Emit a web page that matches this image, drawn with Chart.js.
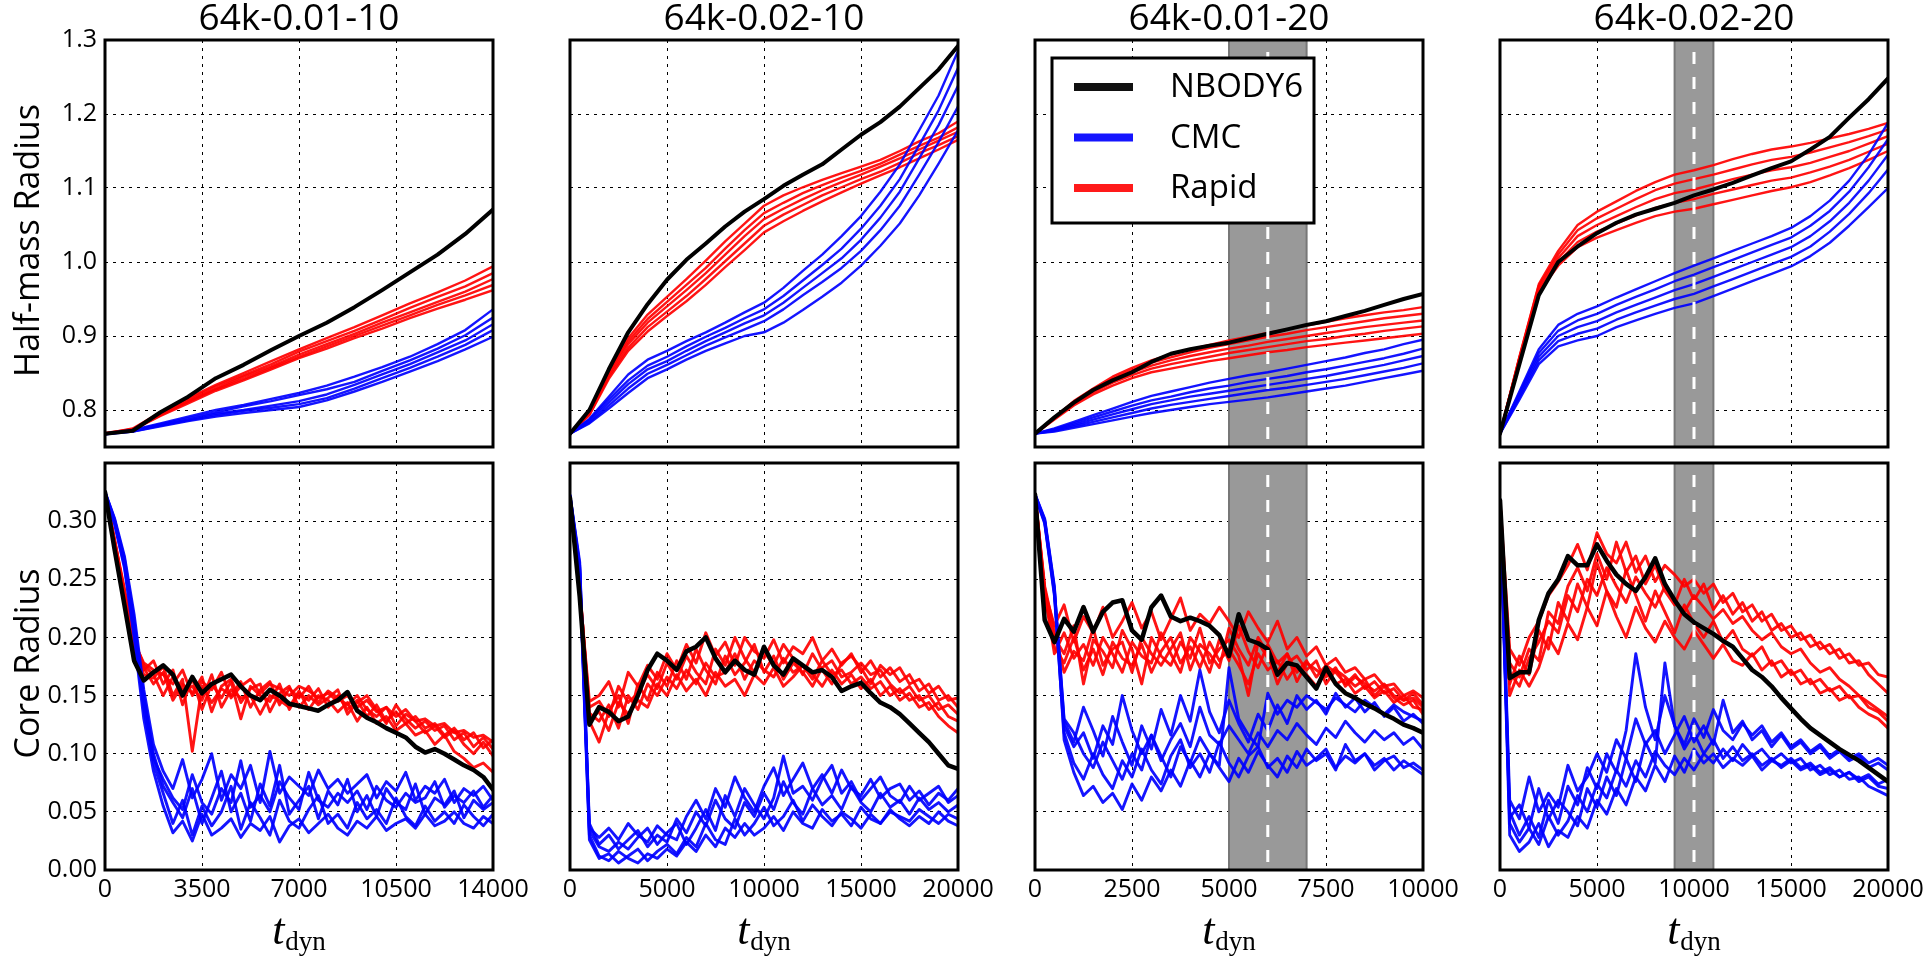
<!DOCTYPE html>
<html>
<head>
<meta charset="utf-8">
<script src="https://cdn.jsdelivr.net/npm/chart.js@4.4.1/dist/chart.umd.min.js"></script>
<style>
  body { margin: 0; background: #fff; width: 1925px; height: 958px; overflow: hidden; position: relative; }
  canvas { position: absolute; }
</style>
</head>
<body>
<script>
// ---- labels / ticks ----
const panelTitles = ['64k-0.01-10', '64k-0.02-10', '64k-0.01-20', '64k-0.02-20'];
const tMax = [14000, 20000, 10000, 20000];
const xTicks14 = [0, 3500, 7000, 10500, 14000];
const xTicks20 = [0, 5000, 10000, 15000, 20000];
const xTicks10 = [0, 2500, 5000, 7500, 10000];
const halfTicks = [0.8, 0.9, 1.0, 1.1, 1.2, 1.3];
const coreTicks = [0, 0.05, 0.10, 0.15, 0.20, 0.25, 0.30];
const legendLabels = ['NBODY6', 'CMC', 'Rapid'];
// shaded window [from, to, marker]
const band3 = [5000, 7000, 6000];
const band4 = [9000, 11000, 10000];

// ---- sample times ----
const tHalf14 = [0,1000,2000,3000,4000,5000,6000,7000,8000,9000,10000,11000,12000,13000,14000];
const tHalf20 = [0,1000,2000,3000,4000,5000,6000,7000,8000,9000,10000,11000,12000,13000,14000,15000,16000,17000,18000,19000,20000];
const tHalf10 = [0,500,1000,1500,2000,2500,3000,3500,4000,4500,5000,5500,6000,6500,7000,7500,8000,8500,9000,9500,10000];
const tCore14 = [0,350,700,1050,1400,1750,2100,2450,2800,3150,3500,3850,4200,4550,4900,5250,5600,5950,6300,6650,7000,7350,7700,8050,8400,8750,9100,9450,9800,10150,10500,10850,11200,11550,11900,12250,12600,12950,13300,13650,14000];
const tCore20 = [0,500,1000,1500,2000,2500,3000,3500,4000,4500,5000,5500,6000,6500,7000,7500,8000,8500,9000,9500,10000,10500,11000,11500,12000,12500,13000,13500,14000,14500,15000,15500,16000,16500,17000,17500,18000,18500,19000,19500,20000];
const tCore10 = [0,250,500,750,1000,1250,1500,1750,2000,2250,2500,2750,3000,3250,3500,3750,4000,4250,4500,4750,5000,5250,5500,5750,6000,6250,6500,6750,7000,7250,7500,7750,8000,8250,8500,8750,9000,9250,9500,9750,10000];

// ---- 64k-0.01-10 ----
const nbodyHalf1 = [0.768,0.772,0.797,0.818,0.843,0.861,0.881,0.900,0.918,0.939,0.962,0.986,1.010,1.038,1.071];
const rapidHalf1 = [
  [0.768,0.775,0.797,0.816,0.834,0.850,0.866,0.882,0.897,0.912,0.928,0.944,0.959,0.975,0.994],
  [0.768,0.774,0.796,0.814,0.832,0.847,0.862,0.879,0.893,0.907,0.922,0.938,0.953,0.967,0.985],
  [0.769,0.774,0.794,0.812,0.829,0.845,0.859,0.875,0.889,0.903,0.918,0.932,0.946,0.960,0.977],
  [0.768,0.773,0.793,0.811,0.828,0.842,0.857,0.872,0.886,0.900,0.914,0.928,0.942,0.955,0.969],
  [0.767,0.773,0.792,0.809,0.826,0.840,0.855,0.870,0.883,0.897,0.910,0.924,0.937,0.949,0.962]
];
const cmcHalf1 = [
  [0.768,0.773,0.782,0.791,0.800,0.807,0.815,0.823,0.833,0.845,0.858,0.872,0.889,0.908,0.936],
  [0.768,0.772,0.781,0.789,0.797,0.805,0.812,0.820,0.828,0.838,0.853,0.867,0.883,0.901,0.925],
  [0.767,0.772,0.780,0.787,0.795,0.800,0.806,0.812,0.821,0.834,0.848,0.862,0.878,0.894,0.916],
  [0.768,0.771,0.779,0.786,0.793,0.799,0.803,0.808,0.816,0.829,0.843,0.857,0.872,0.888,0.908],
  [0.767,0.771,0.778,0.785,0.791,0.796,0.800,0.804,0.813,0.825,0.838,0.852,0.866,0.882,0.899]
];
const nbodyCore1 = [0.325,0.275,0.228,0.180,0.163,0.170,0.176,0.168,0.150,0.166,0.152,0.160,0.164,0.168,0.158,0.150,0.146,0.155,0.150,0.143,0.141,0.139,0.137,0.142,0.146,0.153,0.137,0.131,0.127,0.122,0.118,0.114,0.106,0.101,0.104,0.100,0.095,0.090,0.086,0.080,0.069];
const rapidCore1 = [
  [0.325,0.282,0.240,0.196,0.178,0.172,0.168,0.160,0.172,0.150,0.162,0.155,0.170,0.148,0.158,0.164,0.152,0.160,0.156,0.150,0.158,0.154,0.148,0.152,0.145,0.150,0.140,0.146,0.136,0.140,0.132,0.138,0.128,0.130,0.124,0.126,0.118,0.120,0.114,0.116,0.110],
  [0.325,0.284,0.238,0.190,0.172,0.180,0.160,0.172,0.142,0.165,0.138,0.160,0.148,0.162,0.130,0.158,0.150,0.145,0.160,0.138,0.152,0.146,0.156,0.140,0.150,0.138,0.146,0.132,0.142,0.128,0.136,0.126,0.132,0.122,0.126,0.116,0.122,0.112,0.118,0.105,0.112],
  [0.324,0.280,0.236,0.192,0.168,0.165,0.175,0.150,0.164,0.102,0.158,0.144,0.156,0.150,0.162,0.140,0.155,0.162,0.142,0.156,0.148,0.158,0.144,0.154,0.148,0.142,0.150,0.138,0.132,0.140,0.124,0.134,0.128,0.118,0.124,0.114,0.120,0.108,0.100,0.110,0.098],
  [0.325,0.283,0.242,0.198,0.176,0.168,0.150,0.166,0.155,0.158,0.146,0.168,0.140,0.155,0.148,0.150,0.134,0.150,0.146,0.140,0.154,0.138,0.150,0.146,0.136,0.144,0.128,0.140,0.126,0.132,0.120,0.126,0.116,0.120,0.108,0.116,0.102,0.096,0.088,0.092,0.084],
  [0.324,0.281,0.239,0.194,0.174,0.160,0.170,0.146,0.160,0.152,0.166,0.136,0.158,0.164,0.144,0.156,0.160,0.136,0.152,0.158,0.140,0.150,0.142,0.148,0.155,0.134,0.144,0.150,0.138,0.126,0.142,0.130,0.122,0.128,0.120,0.124,0.112,0.118,0.106,0.114,0.104]
];
const cmcCore1 = [
  [0.325,0.300,0.268,0.215,0.150,0.100,0.072,0.058,0.045,0.070,0.040,0.062,0.085,0.050,0.066,0.042,0.074,0.055,0.090,0.048,0.060,0.072,0.044,0.068,0.056,0.078,0.050,0.064,0.046,0.070,0.058,0.052,0.074,0.048,0.062,0.056,0.068,0.045,0.060,0.052,0.058],
  [0.324,0.298,0.262,0.205,0.138,0.092,0.066,0.040,0.060,0.030,0.055,0.038,0.050,0.072,0.035,0.058,0.045,0.030,0.060,0.042,0.036,0.052,0.064,0.040,0.048,0.036,0.058,0.044,0.052,0.040,0.062,0.046,0.038,0.055,0.042,0.050,0.040,0.056,0.046,0.038,0.048],
  [0.325,0.302,0.270,0.220,0.155,0.108,0.085,0.070,0.095,0.062,0.078,0.100,0.060,0.082,0.070,0.090,0.058,0.102,0.066,0.080,0.072,0.064,0.086,0.070,0.078,0.066,0.074,0.082,0.062,0.076,0.068,0.084,0.060,0.072,0.066,0.078,0.058,0.070,0.064,0.072,0.060],
  [0.324,0.297,0.260,0.200,0.130,0.085,0.055,0.032,0.042,0.025,0.048,0.030,0.036,0.044,0.028,0.040,0.034,0.046,0.024,0.038,0.044,0.032,0.040,0.048,0.036,0.030,0.042,0.036,0.046,0.034,0.040,0.044,0.036,0.048,0.038,0.042,0.050,0.040,0.036,0.046,0.040],
  [0.325,0.301,0.265,0.212,0.145,0.096,0.078,0.062,0.052,0.082,0.058,0.048,0.070,0.058,0.094,0.054,0.064,0.050,0.076,0.062,0.052,0.084,0.060,0.054,0.066,0.058,0.068,0.052,0.072,0.060,0.054,0.066,0.058,0.062,0.076,0.054,0.064,0.058,0.068,0.054,0.064]
];

// ---- 64k-0.02-10 ----
const nbodyHalf2 = [0.768,0.800,0.855,0.905,0.943,0.976,1.003,1.025,1.048,1.068,1.085,1.103,1.118,1.132,1.152,1.172,1.189,1.210,1.235,1.260,1.292];
const rapidHalf2 = [
  [0.768,0.797,0.853,0.897,0.929,0.953,0.977,1.002,1.028,1.052,1.076,1.090,1.101,1.111,1.120,1.129,1.138,1.150,1.163,1.174,1.190],
  [0.768,0.796,0.851,0.893,0.923,0.946,0.969,0.992,1.018,1.043,1.066,1.080,1.093,1.104,1.114,1.123,1.133,1.145,1.157,1.168,1.182],
  [0.768,0.795,0.848,0.889,0.918,0.940,0.962,0.985,1.010,1.035,1.058,1.072,1.085,1.097,1.108,1.118,1.129,1.140,1.152,1.164,1.176],
  [0.768,0.794,0.845,0.884,0.912,0.933,0.954,0.977,1.001,1.025,1.049,1.064,1.077,1.090,1.101,1.112,1.122,1.134,1.147,1.158,1.170],
  [0.768,0.793,0.842,0.880,0.906,0.927,0.947,0.969,0.993,1.016,1.040,1.055,1.069,1.082,1.094,1.106,1.117,1.128,1.140,1.152,1.165]
];
const cmcHalf2 = [
  [0.768,0.788,0.818,0.848,0.868,0.880,0.893,0.905,0.918,0.932,0.945,0.965,0.988,1.010,1.035,1.062,1.095,1.132,1.178,1.225,1.285],
  [0.768,0.787,0.814,0.840,0.860,0.872,0.886,0.899,0.911,0.924,0.936,0.954,0.975,0.996,1.018,1.045,1.076,1.112,1.158,1.205,1.262],
  [0.768,0.785,0.810,0.835,0.855,0.866,0.880,0.893,0.905,0.917,0.928,0.945,0.965,0.985,1.005,1.030,1.060,1.095,1.140,1.185,1.238],
  [0.768,0.783,0.806,0.829,0.849,0.861,0.874,0.887,0.898,0.909,0.920,0.936,0.955,0.973,0.992,1.015,1.043,1.076,1.118,1.162,1.210],
  [0.768,0.782,0.802,0.823,0.843,0.855,0.868,0.880,0.890,0.900,0.905,0.918,0.935,0.953,0.972,0.995,1.022,1.052,1.090,1.133,1.178]
];
const nbodyCore2 = [0.320,0.235,0.125,0.140,0.136,0.128,0.132,0.150,0.172,0.186,0.180,0.172,0.188,0.192,0.200,0.182,0.170,0.180,0.172,0.168,0.192,0.176,0.168,0.182,0.176,0.170,0.172,0.166,0.154,0.158,0.161,0.152,0.144,0.140,0.134,0.126,0.118,0.110,0.100,0.090,0.087];
const rapidCore2 = [
  [0.320,0.240,0.145,0.150,0.162,0.140,0.170,0.158,0.176,0.164,0.186,0.172,0.194,0.178,0.204,0.184,0.196,0.176,0.200,0.188,0.182,0.198,0.178,0.192,0.186,0.200,0.180,0.190,0.176,0.186,0.170,0.180,0.166,0.174,0.162,0.168,0.154,0.160,0.146,0.150,0.140],
  [0.320,0.245,0.135,0.128,0.142,0.122,0.150,0.138,0.160,0.150,0.166,0.156,0.172,0.160,0.178,0.166,0.170,0.186,0.164,0.180,0.172,0.166,0.182,0.170,0.176,0.164,0.180,0.168,0.172,0.160,0.166,0.156,0.162,0.150,0.156,0.146,0.150,0.138,0.144,0.132,0.128],
  [0.319,0.238,0.128,0.110,0.136,0.150,0.126,0.160,0.146,0.170,0.158,0.180,0.164,0.190,0.172,0.160,0.184,0.168,0.178,0.194,0.170,0.184,0.164,0.178,0.170,0.158,0.174,0.180,0.166,0.170,0.178,0.168,0.172,0.160,0.152,0.158,0.146,0.150,0.138,0.142,0.134],
  [0.320,0.242,0.140,0.145,0.132,0.158,0.144,0.152,0.168,0.156,0.178,0.164,0.184,0.170,0.160,0.190,0.176,0.200,0.182,0.170,0.188,0.176,0.194,0.182,0.168,0.186,0.172,0.160,0.178,0.184,0.174,0.160,0.176,0.168,0.174,0.160,0.164,0.152,0.158,0.146,0.148],
  [0.319,0.236,0.130,0.136,0.120,0.144,0.134,0.146,0.140,0.160,0.150,0.168,0.154,0.164,0.150,0.170,0.158,0.164,0.150,0.168,0.160,0.174,0.158,0.166,0.176,0.168,0.158,0.172,0.160,0.168,0.156,0.164,0.150,0.158,0.146,0.152,0.140,0.144,0.132,0.124,0.118]
];
const cmcCore2 = [
  [0.322,0.262,0.040,0.022,0.030,0.018,0.026,0.034,0.020,0.030,0.024,0.044,0.032,0.050,0.038,0.060,0.044,0.036,0.058,0.046,0.066,0.052,0.076,0.058,0.048,0.070,0.056,0.064,0.052,0.072,0.058,0.050,0.066,0.054,0.060,0.048,0.062,0.052,0.058,0.050,0.056],
  [0.321,0.258,0.030,0.012,0.008,0.016,0.010,0.006,0.014,0.010,0.018,0.012,0.024,0.016,0.030,0.020,0.036,0.028,0.040,0.030,0.036,0.046,0.034,0.050,0.040,0.036,0.052,0.042,0.048,0.038,0.054,0.044,0.040,0.050,0.046,0.042,0.052,0.046,0.040,0.048,0.044],
  [0.322,0.265,0.036,0.028,0.036,0.026,0.040,0.030,0.024,0.038,0.030,0.026,0.046,0.060,0.044,0.070,0.054,0.080,0.062,0.050,0.072,0.088,0.064,0.078,0.092,0.070,0.082,0.066,0.086,0.070,0.064,0.078,0.062,0.070,0.074,0.060,0.068,0.056,0.066,0.060,0.070],
  [0.321,0.255,0.026,0.010,0.014,0.006,0.012,0.018,0.008,0.016,0.022,0.014,0.028,0.020,0.040,0.026,0.022,0.044,0.030,0.040,0.054,0.038,0.046,0.060,0.042,0.056,0.046,0.038,0.050,0.044,0.036,0.048,0.040,0.052,0.044,0.038,0.046,0.040,0.050,0.042,0.038],
  [0.322,0.260,0.034,0.020,0.016,0.024,0.018,0.028,0.036,0.022,0.032,0.040,0.022,0.036,0.052,0.034,0.064,0.046,0.070,0.056,0.044,0.062,0.098,0.066,0.072,0.060,0.078,0.090,0.066,0.076,0.060,0.070,0.080,0.064,0.058,0.072,0.060,0.066,0.072,0.058,0.064]
];

// ---- 64k-0.01-20 ----
const nbodyHalf3 = [0.768,0.790,0.810,0.827,0.840,0.851,0.865,0.876,0.882,0.887,0.891,0.897,0.903,0.909,0.915,0.920,0.927,0.934,0.942,0.950,0.957];
const rapidHalf3 = [
  [0.768,0.790,0.812,0.829,0.845,0.857,0.867,0.875,0.882,0.888,0.894,0.899,0.904,0.909,0.914,0.919,0.924,0.928,0.932,0.935,0.939],
  [0.768,0.790,0.811,0.828,0.842,0.854,0.864,0.871,0.878,0.884,0.889,0.894,0.899,0.903,0.908,0.912,0.916,0.920,0.924,0.927,0.930],
  [0.768,0.789,0.810,0.826,0.840,0.851,0.860,0.867,0.873,0.878,0.883,0.887,0.892,0.896,0.900,0.904,0.908,0.912,0.915,0.918,0.921],
  [0.768,0.788,0.808,0.824,0.837,0.847,0.856,0.862,0.867,0.872,0.877,0.881,0.885,0.889,0.893,0.896,0.900,0.903,0.907,0.910,0.913],
  [0.768,0.787,0.806,0.821,0.833,0.843,0.851,0.856,0.861,0.866,0.870,0.874,0.878,0.881,0.885,0.888,0.891,0.894,0.897,0.900,0.903]
];
const cmcHalf3 = [
  [0.768,0.775,0.784,0.793,0.802,0.811,0.819,0.825,0.831,0.837,0.842,0.847,0.851,0.856,0.861,0.866,0.871,0.877,0.882,0.889,0.895],
  [0.768,0.774,0.782,0.790,0.798,0.806,0.813,0.818,0.824,0.829,0.833,0.838,0.842,0.846,0.851,0.855,0.860,0.865,0.870,0.876,0.883],
  [0.768,0.773,0.780,0.787,0.794,0.801,0.808,0.813,0.818,0.822,0.826,0.830,0.834,0.838,0.842,0.846,0.851,0.856,0.861,0.867,0.873],
  [0.768,0.772,0.778,0.784,0.790,0.796,0.802,0.807,0.811,0.815,0.819,0.823,0.827,0.830,0.834,0.838,0.842,0.847,0.852,0.857,0.863],
  [0.768,0.771,0.776,0.781,0.786,0.791,0.796,0.800,0.804,0.808,0.811,0.814,0.817,0.821,0.825,0.829,0.833,0.838,0.843,0.848,0.853]
];
const nbodyCore3 = [0.323,0.215,0.196,0.216,0.205,0.226,0.205,0.222,0.230,0.232,0.206,0.198,0.226,0.236,0.218,0.214,0.217,0.214,0.210,0.202,0.184,0.220,0.198,0.195,0.190,0.168,0.178,0.176,0.166,0.156,0.174,0.160,0.152,0.148,0.143,0.139,0.134,0.130,0.125,0.122,0.118];
const rapidCore3 = [
  [0.323,0.240,0.210,0.228,0.196,0.218,0.204,0.226,0.200,0.214,0.230,0.208,0.222,0.198,0.216,0.234,0.206,0.220,0.212,0.226,0.214,0.200,0.222,0.208,0.196,0.214,0.190,0.200,0.184,0.192,0.176,0.182,0.170,0.174,0.164,0.168,0.158,0.160,0.150,0.154,0.148],
  [0.322,0.236,0.192,0.178,0.200,0.172,0.190,0.168,0.196,0.182,0.176,0.194,0.170,0.188,0.200,0.178,0.192,0.174,0.196,0.180,0.190,0.176,0.160,0.186,0.172,0.180,0.164,0.176,0.168,0.158,0.170,0.160,0.164,0.152,0.158,0.148,0.154,0.144,0.150,0.140,0.138],
  [0.323,0.242,0.200,0.186,0.210,0.160,0.198,0.188,0.174,0.206,0.190,0.160,0.200,0.184,0.176,0.196,0.182,0.208,0.178,0.190,0.198,0.184,0.150,0.196,0.182,0.170,0.186,0.162,0.178,0.172,0.166,0.174,0.158,0.166,0.160,0.154,0.160,0.150,0.146,0.152,0.142],
  [0.322,0.238,0.186,0.204,0.182,0.194,0.176,0.200,0.186,0.170,0.196,0.184,0.178,0.204,0.186,0.170,0.200,0.188,0.170,0.198,0.180,0.210,0.188,0.174,0.194,0.178,0.186,0.170,0.180,0.166,0.176,0.170,0.160,0.168,0.156,0.162,0.152,0.156,0.146,0.148,0.140],
  [0.323,0.244,0.206,0.170,0.188,0.180,0.208,0.176,0.190,0.196,0.170,0.200,0.186,0.176,0.190,0.204,0.172,0.194,0.186,0.174,0.208,0.190,0.176,0.200,0.186,0.160,0.178,0.184,0.172,0.180,0.160,0.172,0.166,0.158,0.164,0.150,0.158,0.148,0.142,0.146,0.134]
];
const cmcCore3 = [
  [0.323,0.300,0.240,0.128,0.110,0.140,0.120,0.098,0.132,0.110,0.090,0.124,0.104,0.138,0.116,0.150,0.128,0.172,0.136,0.118,0.146,0.126,0.110,0.134,0.120,0.142,0.126,0.150,0.138,0.146,0.134,0.152,0.140,0.148,0.136,0.144,0.132,0.140,0.128,0.134,0.126],
  [0.322,0.298,0.236,0.118,0.092,0.078,0.100,0.082,0.070,0.094,0.080,0.104,0.086,0.074,0.098,0.112,0.088,0.100,0.084,0.110,0.092,0.080,0.098,0.106,0.088,0.096,0.084,0.102,0.090,0.096,0.104,0.088,0.098,0.092,0.100,0.086,0.094,0.098,0.088,0.092,0.086],
  [0.323,0.302,0.244,0.112,0.084,0.064,0.072,0.058,0.066,0.052,0.074,0.060,0.080,0.068,0.086,0.072,0.094,0.080,0.100,0.088,0.076,0.096,0.084,0.102,0.090,0.080,0.098,0.088,0.104,0.094,0.100,0.086,0.108,0.094,0.100,0.090,0.096,0.086,0.094,0.088,0.082],
  [0.322,0.299,0.238,0.124,0.106,0.118,0.096,0.124,0.108,0.150,0.120,0.100,0.116,0.094,0.112,0.126,0.106,0.140,0.116,0.108,0.124,0.112,0.100,0.118,0.106,0.120,0.112,0.126,0.116,0.108,0.122,0.114,0.128,0.118,0.110,0.120,0.112,0.118,0.108,0.114,0.104],
  [0.323,0.301,0.242,0.130,0.118,0.100,0.088,0.110,0.094,0.078,0.100,0.086,0.116,0.098,0.080,0.106,0.092,0.114,0.100,0.090,0.174,0.130,0.116,0.106,0.152,0.134,0.146,0.140,0.150,0.144,0.138,0.148,0.142,0.136,0.146,0.140,0.134,0.142,0.136,0.132,0.128]
];

// ---- 64k-0.02-20 ----
const nbodyHalf4 = [0.768,0.862,0.955,1.000,1.021,1.039,1.053,1.064,1.072,1.080,1.090,1.098,1.107,1.117,1.127,1.136,1.152,1.169,1.195,1.220,1.248];
const rapidHalf4 = [
  [0.768,0.872,0.970,1.015,1.050,1.068,1.082,1.096,1.108,1.118,1.124,1.131,1.139,1.146,1.152,1.156,1.161,1.167,1.173,1.180,1.188],
  [0.768,0.871,0.968,1.010,1.043,1.059,1.072,1.085,1.097,1.106,1.112,1.118,1.125,1.132,1.138,1.142,1.148,1.155,1.162,1.170,1.179],
  [0.768,0.870,0.965,1.005,1.035,1.050,1.062,1.074,1.085,1.093,1.098,1.105,1.112,1.118,1.124,1.128,1.134,1.142,1.150,1.160,1.170],
  [0.768,0.869,0.962,1.000,1.027,1.041,1.052,1.063,1.073,1.080,1.085,1.092,1.098,1.104,1.110,1.114,1.121,1.129,1.138,1.149,1.160],
  [0.768,0.868,0.959,0.995,1.020,1.033,1.043,1.053,1.062,1.068,1.072,1.078,1.084,1.090,1.096,1.101,1.108,1.117,1.127,1.138,1.150]
];
const cmcHalf4 = [
  [0.768,0.825,0.882,0.915,0.930,0.940,0.952,0.963,0.974,0.985,0.995,1.005,1.015,1.025,1.035,1.046,1.062,1.083,1.110,1.145,1.188],
  [0.768,0.823,0.877,0.907,0.921,0.930,0.942,0.953,0.963,0.974,0.983,0.993,1.003,1.013,1.023,1.033,1.049,1.069,1.095,1.128,1.166],
  [0.768,0.820,0.872,0.900,0.912,0.920,0.932,0.942,0.952,0.962,0.970,0.980,0.990,1.000,1.010,1.020,1.035,1.055,1.080,1.110,1.145],
  [0.768,0.817,0.867,0.893,0.903,0.910,0.922,0.932,0.941,0.950,0.957,0.967,0.977,0.987,0.997,1.007,1.021,1.041,1.065,1.093,1.125],
  [0.768,0.814,0.862,0.886,0.894,0.900,0.912,0.921,0.930,0.938,0.944,0.954,0.964,0.974,0.984,0.994,1.008,1.026,1.049,1.074,1.100]
];
const nbodyCore4 = [0.318,0.165,0.170,0.170,0.215,0.238,0.250,0.270,0.262,0.262,0.280,0.266,0.254,0.246,0.240,0.252,0.268,0.246,0.232,0.220,0.213,0.208,0.203,0.197,0.192,0.182,0.172,0.166,0.158,0.148,0.139,0.130,0.122,0.116,0.110,0.104,0.099,0.094,0.088,0.082,0.076];
const rapidCore4 = [
  [0.318,0.190,0.176,0.200,0.214,0.236,0.248,0.262,0.280,0.258,0.290,0.272,0.264,0.282,0.256,0.270,0.248,0.262,0.254,0.244,0.250,0.238,0.246,0.230,0.238,0.222,0.228,0.214,0.220,0.206,0.210,0.198,0.202,0.190,0.194,0.182,0.186,0.176,0.178,0.168,0.166],
  [0.318,0.170,0.158,0.182,0.196,0.214,0.204,0.236,0.222,0.250,0.236,0.260,0.244,0.230,0.252,0.238,0.226,0.244,0.232,0.222,0.236,0.226,0.216,0.224,0.212,0.218,0.206,0.198,0.204,0.192,0.186,0.190,0.178,0.170,0.174,0.164,0.158,0.150,0.144,0.138,0.132],
  [0.318,0.160,0.184,0.168,0.206,0.190,0.230,0.214,0.246,0.226,0.264,0.240,0.226,0.258,0.236,0.214,0.240,0.222,0.204,0.228,0.212,0.200,0.214,0.196,0.206,0.190,0.184,0.192,0.176,0.180,0.168,0.172,0.160,0.164,0.154,0.158,0.148,0.150,0.140,0.136,0.128],
  [0.318,0.178,0.166,0.190,0.180,0.222,0.212,0.244,0.260,0.240,0.272,0.250,0.282,0.256,0.270,0.246,0.262,0.240,0.228,0.250,0.232,0.246,0.224,0.236,0.220,0.230,0.214,0.222,0.206,0.212,0.200,0.204,0.192,0.196,0.186,0.190,0.178,0.180,0.168,0.160,0.152],
  [0.318,0.150,0.172,0.158,0.174,0.200,0.186,0.212,0.198,0.226,0.210,0.240,0.218,0.200,0.226,0.208,0.196,0.214,0.200,0.190,0.206,0.194,0.182,0.194,0.180,0.176,0.186,0.172,0.180,0.166,0.172,0.160,0.164,0.152,0.156,0.146,0.150,0.140,0.134,0.130,0.122]
];
const cmcCore4 = [
  [0.318,0.050,0.030,0.046,0.028,0.060,0.040,0.072,0.056,0.088,0.070,0.100,0.084,0.120,0.186,0.140,0.112,0.150,0.124,0.108,0.130,0.114,0.138,0.120,0.112,0.126,0.116,0.124,0.110,0.118,0.106,0.112,0.102,0.108,0.098,0.104,0.096,0.100,0.092,0.096,0.090],
  [0.318,0.030,0.016,0.024,0.040,0.020,0.034,0.028,0.046,0.036,0.060,0.048,0.070,0.056,0.080,0.068,0.090,0.076,0.098,0.084,0.104,0.092,0.100,0.088,0.096,0.090,0.098,0.086,0.094,0.090,0.096,0.088,0.092,0.084,0.088,0.080,0.084,0.078,0.082,0.074,0.078],
  [0.318,0.060,0.044,0.080,0.050,0.066,0.054,0.090,0.068,0.080,0.100,0.084,0.112,0.096,0.130,0.108,0.120,0.100,0.116,0.132,0.110,0.124,0.108,0.146,0.118,0.128,0.112,0.120,0.106,0.116,0.104,0.110,0.100,0.106,0.096,0.102,0.094,0.098,0.088,0.092,0.086],
  [0.318,0.040,0.024,0.036,0.022,0.046,0.030,0.042,0.064,0.050,0.074,0.062,0.086,0.072,0.094,0.080,0.102,0.090,0.082,0.096,0.086,0.100,0.092,0.104,0.094,0.108,0.098,0.104,0.094,0.100,0.092,0.096,0.086,0.090,0.082,0.086,0.078,0.080,0.072,0.068,0.064],
  [0.318,0.045,0.056,0.036,0.070,0.044,0.060,0.050,0.038,0.070,0.054,0.080,0.064,0.096,0.076,0.110,0.092,0.178,0.124,0.104,0.118,0.100,0.112,0.096,0.106,0.094,0.100,0.090,0.096,0.088,0.094,0.086,0.090,0.082,0.086,0.080,0.084,0.076,0.080,0.072,0.070]
];

const panels = [
  { xTicks: xTicks14, band: null,
    half: { t: tHalf14, nbody: nbodyHalf1, cmc: cmcHalf1, rapid: rapidHalf1 },
    core: { t: tCore14, nbody: nbodyCore1, cmc: cmcCore1, rapid: rapidCore1 } },
  { xTicks: xTicks20, band: null,
    half: { t: tHalf20, nbody: nbodyHalf2, cmc: cmcHalf2, rapid: rapidHalf2 },
    core: { t: tCore20, nbody: nbodyCore2, cmc: cmcCore2, rapid: rapidCore2 } },
  { xTicks: xTicks10, band: band3,
    half: { t: tHalf10, nbody: nbodyHalf3, cmc: cmcHalf3, rapid: rapidHalf3 },
    core: { t: tCore10, nbody: nbodyCore3, cmc: cmcCore3, rapid: rapidCore3 } },
  { xTicks: xTicks20, band: band4,
    half: { t: tHalf20, nbody: nbodyHalf4, cmc: cmcHalf4, rapid: rapidHalf4 },
    core: { t: tCore20, nbody: nbodyCore4, cmc: cmcCore4, rapid: rapidCore4 } }
];

// ---- layout ----
const colLeft = [105, 570, 1035, 1500];
const rowTop = [40, 463];
const panelW = 388, panelH = 407;
const sans = '"Open Sans", "DejaVu Sans", sans-serif';
const serif = '"Liberation Serif", "DejaVu Serif", serif';
const colBlack = '#000000', colBlue = 'rgba(0,0,255,0.92)', colRed = 'rgba(255,0,0,0.92)';

const decor = {
  id: 'decor',
  beforeDatasetsDraw(chart, args, o) {
    if (!o.band) return;
    const { ctx, chartArea: a, scales: { x } } = chart;
    const x0 = x.getPixelForValue(o.band[0]), x1 = x.getPixelForValue(o.band[1]);
    ctx.save();
    ctx.fillStyle = '#999999';
    ctx.fillRect(x0, a.top, x1 - x0, a.bottom - a.top);
    ctx.strokeStyle = '#777777';
    ctx.lineWidth = 2;
    ctx.beginPath();
    ctx.moveTo(x0, a.top); ctx.lineTo(x0, a.bottom);
    ctx.moveTo(x1, a.top); ctx.lineTo(x1, a.bottom);
    ctx.stroke();
    ctx.restore();
  },
  afterDatasetsDraw(chart, args, o) {
    if (!o.band) return;
    const { ctx, chartArea: a, scales: { x } } = chart;
    const xm = x.getPixelForValue(o.band[2]);
    ctx.save();
    ctx.strokeStyle = '#ffffff';
    ctx.lineWidth = 3;
    ctx.setLineDash([12, 13]);
    ctx.lineDashOffset = -12;
    ctx.beginPath();
    ctx.moveTo(xm, a.top); ctx.lineTo(xm, a.bottom);
    ctx.stroke();
    ctx.restore();
  },
  afterDraw(chart, args, o) {
    const { ctx, chartArea: a } = chart;
    ctx.save();
    ctx.strokeStyle = '#000';
    ctx.lineWidth = 3;
    ctx.strokeRect(a.left, a.top, a.right - a.left, a.bottom - a.top);
    ctx.fillStyle = '#000';
    const cx = (a.left + a.right) / 2;
    if (o.title) {
      ctx.font = '37px ' + sans;
      ctx.textAlign = 'center';
      ctx.textBaseline = 'alphabetic';
      ctx.fillText(o.title, cx, a.top - 10);
    }
    if (o.yTitle) {
      ctx.save();
      ctx.translate(a.left - 76, (a.top + a.bottom) / 2 - 3);
      ctx.rotate(-Math.PI / 2);
      ctx.font = '34px ' + sans;
      ctx.textAlign = 'center';
      ctx.textBaseline = 'middle';
      ctx.fillText(o.yTitle, 0, 0);
      ctx.restore();
    }
    if (o.xTitle) {
      ctx.textAlign = 'left';
      ctx.textBaseline = 'alphabetic';
      ctx.font = 'italic 44px ' + serif;
      const wT = ctx.measureText('t').width;
      ctx.font = '27px ' + serif;
      const wS = ctx.measureText('dyn').width;
      const x0 = cx - (wT + 1 + wS) / 2;
      ctx.font = 'italic 44px ' + serif;
      ctx.fillText('t', x0, a.bottom + 74);
      ctx.font = '27px ' + serif;
      ctx.fillText('dyn', x0 + wT + 1, a.bottom + 80);
    }
    if (o.legend) {
      const bx = a.left + 17, by = a.top + 18, bw = 262, bh = 165;
      ctx.fillStyle = '#fff';
      ctx.fillRect(bx, by, bw, bh);
      ctx.lineWidth = 3;
      ctx.strokeStyle = '#000';
      ctx.strokeRect(bx, by, bw, bh);
      const cols = ['#111111', '#1515ff', '#ff1a1a'];
      ctx.font = '33px ' + sans;
      ctx.textAlign = 'left';
      ctx.textBaseline = 'middle';
      legendLabels.forEach((lab, i) => {
        const yy = by + 29 + i * 50.5;
        ctx.strokeStyle = cols[i];
        ctx.lineWidth = 8;
        ctx.beginPath();
        ctx.moveTo(bx + 22, yy); ctx.lineTo(bx + 81, yy);
        ctx.stroke();
        ctx.fillStyle = '#000';
        ctx.fillText(lab, bx + 118, yy + 1);
      });
    }
    ctx.restore();
  }
};

function seriesSet(ts, ys, color, width) {
  const pts = [];
  for (let i = 0; i < ys.length && i < ts.length; i++) pts.push({ x: ts[i], y: ys[i] });
  return { data: pts, borderColor: color, borderWidth: width, pointRadius: 0,
    tension: 0, fill: false, borderJoinStyle: 'round', borderCapStyle: 'round' };
}

function makePanel(col, row) {
  const p = panels[col];
  const s = row === 0 ? p.half : p.core;
  const L = col === 0 ? 105 : 20, R = 45;
  const T = row === 0 ? 40 : 8, B = row === 1 ? 95 : 8;
  const cv = document.createElement('canvas');
  cv.width = panelW + L + R;
  cv.height = panelH + T + B;
  cv.style.left = (colLeft[col] - L) + 'px';
  cv.style.top = (rowTop[row] - T) + 'px';
  document.body.appendChild(cv);

  // thicker traces in the noisy core-radius panels
  const w = row === 0 ? 2.4 : 2.9;
  const datasets = [seriesSet(s.t, s.nbody, colBlack, row === 0 ? 4 : 4.5)];
  s.cmc.forEach(ys => datasets.push(seriesSet(s.t, ys, colBlue, w)));
  s.rapid.forEach(ys => datasets.push(seriesSet(s.t, ys, colRed, w)));

  const yTicks = row === 0 ? halfTicks : coreTicks;
  new Chart(cv, {
    type: 'line',
    data: { datasets },
    options: {
      responsive: false,
      animation: false,
      devicePixelRatio: 1,
      events: [],
      layout: { padding: { left: 0, right: R, top: T, bottom: 0 } },
      plugins: {
        legend: { display: false },
        tooltip: { enabled: false },
        decor: {
          title: row === 0 ? panelTitles[col] : null,
          yTitle: col === 0 ? (row === 0 ? 'Half-mass Radius' : 'Core Radius') : null,
          xTitle: row === 1,
          band: p.band,
          legend: row === 0 && col === 2
        }
      },
      scales: {
        x: {
          type: 'linear', min: 0, max: tMax[col],
          afterBuildTicks: sc => { sc.ticks = p.xTicks.map(v => ({ value: v })); },
          afterFit: sc => { sc.height = B; sc.paddingLeft = 0; sc.paddingRight = 0; },
          ticks: { display: row === 1, autoSkip: false, maxRotation: 0, padding: 5,
            color: '#000', font: { family: sans, size: 25 }, callback: v => String(v) },
          grid: { color: '#000', lineWidth: 1, drawTicks: false },
          border: { display: false, dash: [3, 5] }
        },
        y: {
          type: 'linear', min: row === 0 ? 0.75 : 0, max: row === 0 ? 1.3 : 0.35,
          afterBuildTicks: sc => { sc.ticks = yTicks.map(v => ({ value: v })); },
          afterFit: sc => { sc.width = L; sc.paddingTop = 0; sc.paddingBottom = 0; },
          ticks: { display: col === 0, padding: 8, color: '#000',
            font: { family: sans, size: 25 },
            callback: v => v.toFixed(row === 0 ? 1 : 2) },
          grid: { color: '#000', lineWidth: 1, drawTicks: false },
          border: { display: false, dash: [3, 5] }
        }
      }
    },
    plugins: [decor]
  });
}

for (let r = 0; r < 2; r++)
  for (let c = 0; c < 4; c++) makePanel(c, r);
</script>
</body>
</html>
